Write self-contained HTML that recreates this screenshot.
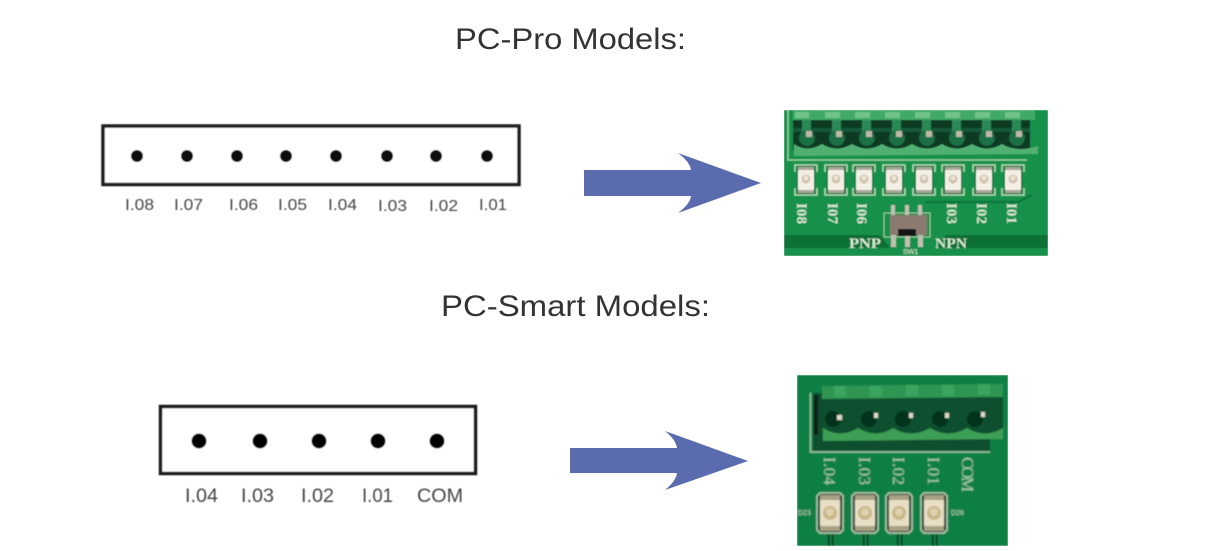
<!DOCTYPE html>
<html><head><meta charset="utf-8"><style>
html,body{margin:0;padding:0;background:#fff}
svg{display:block}
.t{font-family:"Liberation Sans",sans-serif;font-size:30px;fill:#333}
.l{font-family:"Liberation Sans",sans-serif;font-size:16px;fill:#444}
.s{font-family:"Liberation Serif",serif;font-size:15px;font-weight:bold;fill:#d6e8d2}
</style></head><body>
<svg width="1212" height="551" viewBox="0 0 1212 551" xmlns="http://www.w3.org/2000/svg">
<defs>
<filter id="b1" x="-5%" y="-5%" width="110%" height="110%"><feGaussianBlur stdDeviation="0.6"/></filter>
<filter id="b2" x="-5%" y="-5%" width="110%" height="110%"><feGaussianBlur stdDeviation="0.9"/></filter>
<clipPath id="c1"><rect x="784" y="110" width="264" height="146"/></clipPath>
<clipPath id="c2"><rect x="797" y="375" width="211" height="171"/></clipPath>
<g id="led1">
<path d="M-11 -8V-15H11V-8M-11 8V15H11V8" fill="none" stroke="#b8d8b4" stroke-width="1.500"/>
<rect x="-9" y="-14" width="18" height="28" fill="#0f6a38"/>
<rect x="-8" y="-13" width="16" height="4" fill="#a8a898"/>
<rect x="-8" y="9" width="16" height="4" fill="#a8a898"/>
<rect x="-8" y="-10" width="16" height="20" rx="1" fill="#f4efe6"/>
<circle cy="-1" r="4.500" fill="#cfc3ae"/>
<circle cy="-2" r="2.500" fill="#ece3d2"/>
</g>
<g id="led2">
<path d="M-10 -20H10L13 -17V17L10 20H-10L-13 17V-17Z" fill="#123f29" stroke="#bcd3b8" stroke-width="1.500"/>
<rect x="-10" y="-18" width="20" height="6" fill="#a9a184"/>
<rect x="-10" y="12" width="20" height="6" fill="#a9a184"/>
<rect x="-10" y="-13" width="20" height="26" rx="1" fill="#e8dfc6"/>
<circle r="7" fill="#c8b687"/>
<circle cy="-1" r="4" fill="#ddd1b0"/>
</g>
</defs>

<text class="t" x="455" y="49" textLength="231" lengthAdjust="spacingAndGlyphs">PC-Pro Models:</text>
<text class="t" x="441" y="316" textLength="269" lengthAdjust="spacingAndGlyphs">PC-Smart Models:</text>

<!-- top connector -->
<g filter="url(#b1)">
<rect x="103" y="126" width="416" height="58.500" fill="#fff" stroke="#1f1f1f" stroke-width="3.500"/>
<g fill="#0c0c0c">
<circle cx="137" cy="156" r="6"/><circle cx="187" cy="156" r="6"/><circle cx="237" cy="156" r="6"/><circle cx="286" cy="156" r="6"/><circle cx="336" cy="156" r="6"/><circle cx="387" cy="156" r="6"/><circle cx="436" cy="156" r="6"/><circle cx="487" cy="156" r="6"/>
</g>
<text class="l" x="125" y="210" textLength="29" lengthAdjust="spacingAndGlyphs">I.08</text>
<text class="l" x="174" y="210" textLength="29" lengthAdjust="spacingAndGlyphs">I.07</text>
<text class="l" x="229" y="210" textLength="29" lengthAdjust="spacingAndGlyphs">I.06</text>
<text class="l" x="278" y="210" textLength="29" lengthAdjust="spacingAndGlyphs">I.05</text>
<text class="l" x="328" y="210" textLength="29" lengthAdjust="spacingAndGlyphs">I.04</text>
<text class="l" x="378" y="211" textLength="29" lengthAdjust="spacingAndGlyphs">I.03</text>
<text class="l" x="429" y="211" textLength="29" lengthAdjust="spacingAndGlyphs">I.02</text>
<text class="l" x="479" y="210" textLength="28" lengthAdjust="spacingAndGlyphs">I.01</text>
</g>

<!-- bottom connector -->
<g filter="url(#b1)">
<rect x="160.500" y="406.500" width="315" height="67" fill="#fff" stroke="#1f1f1f" stroke-width="3.500"/>
<g fill="#050505">
<circle cx="199" cy="441" r="7.500"/><circle cx="260" cy="441" r="7.500"/><circle cx="319" cy="441" r="7.500"/><circle cx="378" cy="441" r="7.500"/><circle cx="437" cy="441" r="7.500"/>
</g>
<text class="l" style="font-size:19px" x="185" y="502" textLength="33" lengthAdjust="spacingAndGlyphs">I.04</text>
<text class="l" style="font-size:19px" x="241" y="502" textLength="33" lengthAdjust="spacingAndGlyphs">I.03</text>
<text class="l" style="font-size:19px" x="301" y="502" textLength="33" lengthAdjust="spacingAndGlyphs">I.02</text>
<text class="l" style="font-size:19px" x="362" y="502" textLength="31" lengthAdjust="spacingAndGlyphs">I.01</text>
<text class="l" style="font-size:19px" x="417" y="502" textLength="46" lengthAdjust="spacingAndGlyphs">COM</text>
</g>

<!-- arrows -->
<path d="M584 170H691Q690 162 678 153L761 183L678 213Q690 204 691 196H584Z" fill="#5a6cae"/>
<path d="M570 448H677Q676 440 665 431L748 461L665 490Q676 481 677 473H570Z" fill="#5a6cae"/>

<!-- top photo -->
<g clip-path="url(#c1)"><g filter="url(#b1)">
<rect x="784" y="110" width="264" height="146" fill="#15904c"/>
<rect x="784" y="235" width="264" height="13" fill="#0b6f35"/>
<path d="M880 235L892 250H936L946 235Z" fill="#15904c"/>
<path d="M788 110V160H1027" fill="none" stroke="#9ccf9f" stroke-width="1.500"/>
<path d="M925 202H1018L1032 195" fill="none" stroke="#0a6a34" stroke-width="1.500"/>
<rect x="793" y="118" width="237" height="32" fill="#0f3a24"/>
<rect x="793" y="128" width="237" height="4" fill="#17593a"/>
<rect x="793" y="110" width="242" height="10" fill="#3fa868"/>
<g fill="#6fc48a"><rect x="795" y="112" width="14" height="6"/><rect x="825" y="112" width="15" height="6"/><rect x="855" y="112" width="15" height="6"/><rect x="885" y="112" width="15" height="6"/><rect x="915" y="112" width="15" height="6"/><rect x="945" y="112" width="15" height="6"/><rect x="975" y="112" width="15" height="6"/><rect x="1005" y="112" width="15" height="6"/></g>
<g fill="#2c8a57"><rect x="802" y="120" width="9" height="14"/><rect x="832" y="120" width="9" height="14"/><rect x="862" y="120" width="9" height="14"/><rect x="892" y="120" width="9" height="14"/><rect x="922" y="120" width="9" height="14"/><rect x="952" y="120" width="9" height="14"/><rect x="982" y="120" width="9" height="14"/><rect x="1012" y="120" width="9" height="14"/></g>
<g fill="#1b6f45"><circle cx="807" cy="138" r="8"/><circle cx="837" cy="138" r="8"/><circle cx="867" cy="138" r="8"/><circle cx="897" cy="138" r="8"/><circle cx="927" cy="138" r="8"/><circle cx="957" cy="138" r="8"/><circle cx="987" cy="138" r="8"/><circle cx="1017" cy="138" r="8"/></g>
<g fill="#bdb9a6"><rect x="806" y="131" width="6" height="6"/><rect x="836" y="131" width="6" height="6"/><rect x="866" y="131" width="6" height="6"/><rect x="896" y="131" width="6" height="6"/><rect x="926" y="131" width="6" height="6"/><rect x="956" y="131" width="6" height="6"/><rect x="986" y="131" width="6" height="6"/><rect x="1016" y="131" width="6" height="6"/></g>
<path d="M794 144Q807 153 822 144Q837 153 852 144Q867 153 882 144Q897 153 912 144Q927 153 942 144Q957 153 972 144Q987 153 1002 144Q1017 153 1038 146V154L794 156Z" fill="#4fb072"/>
<use href="#led1" x="806" y="180"/><use href="#led1" x="836" y="180"/><use href="#led1" x="864" y="180"/><use href="#led1" x="894" y="180"/><use href="#led1" x="924" y="180"/><use href="#led1" x="953" y="180"/><use href="#led1" x="984" y="180"/><use href="#led1" x="1013" y="180"/>
<text class="s" transform="translate(797,203) rotate(90)" textLength="21">I08</text>
<text class="s" transform="translate(828,203) rotate(90)" textLength="21">I07</text>
<text class="s" transform="translate(857,203) rotate(90)" textLength="21">I06</text>
<text class="s" transform="translate(947,203) rotate(90)" textLength="21">I03</text>
<text class="s" transform="translate(977,203) rotate(90)" textLength="21">I02</text>
<text class="s" transform="translate(1007,203) rotate(90)" textLength="21">I01</text>
<text class="s" x="849" y="248" textLength="32" lengthAdjust="spacingAndGlyphs">PNP</text>
<text class="s" x="935" y="248" textLength="32" lengthAdjust="spacingAndGlyphs">NPN</text>
<rect x="884" y="213" width="46" height="24" fill="none" stroke="#9fcba3" stroke-width="1"/>
<g fill="#c0c0b0"><rect x="891" y="205" width="4" height="10"/><rect x="905" y="205" width="4" height="10"/><rect x="918" y="205" width="4" height="10"/><rect x="891" y="234" width="5" height="13"/><rect x="905" y="234" width="5" height="13"/><rect x="918" y="234" width="5" height="13"/></g>
<rect x="890" y="215" width="37" height="20" fill="#8a7a70"/>
<rect x="898" y="229" width="18" height="7" fill="#161412"/>
<text x="903" y="254" font-family="Liberation Sans, sans-serif" font-size="7" fill="#e2eede">SW1</text>
</g></g>

<!-- bottom photo -->
<g clip-path="url(#c2)"><g filter="url(#b2)">
<rect x="797" y="375" width="211" height="171" fill="#0a7f45"/>
<path d="M990 452H810.500V393" fill="none" stroke="#a5c7a8" stroke-width="1.500"/>
<path d="M813 393H1003V436H990V451H813Z" fill="#0b4f2e"/>
<rect x="814" y="395" width="4" height="40" fill="#0a1f16"/>
<path d="M822 386L1003 384V397L822 399Z" fill="#2f9552"/>
<g fill="#3aa45e"><rect x="834" y="386" width="12" height="11"/><rect x="870" y="386" width="12" height="11"/><rect x="906" y="385" width="12" height="11"/><rect x="942" y="385" width="12" height="11"/><rect x="978" y="384" width="12" height="11"/></g>
<g fill="#06301e"><circle cx="833" cy="419" r="8"/><circle cx="869" cy="419" r="8"/><circle cx="903" cy="419" r="8"/><circle cx="940" cy="419" r="8"/><circle cx="975" cy="419" r="8"/></g>
<g fill="#dcdcc8"><rect x="837" y="415" width="5" height="5"/><rect x="874" y="413" width="4" height="5"/><rect x="909" y="413" width="4" height="5"/><rect x="945" y="413" width="4" height="5"/><rect x="981" y="412" width="4" height="5"/></g>
<path d="M823 428Q840 439 858 428Q876 439 893 428Q911 439 930 428Q948 439 967 428Q985 439 1003 428V439L823 441Z" fill="#3c9f55"/>
<g fill="#a9cdb0" style="font-family:'Liberation Serif',serif;font-size:17px">
<text transform="translate(824,457) rotate(90)" textLength="28">I.04</text>
<text transform="translate(859,457) rotate(90)" textLength="28">I.03</text>
<text transform="translate(893,457) rotate(90)" textLength="28">I.02</text>
<text transform="translate(928,457) rotate(90)" textLength="28">I.01</text>
<text transform="translate(962,457) rotate(90)" textLength="35">COM</text>
</g>
<use href="#led2" x="830" y="513"/><use href="#led2" x="865" y="513"/><use href="#led2" x="899" y="513"/><use href="#led2" x="934" y="513"/>
<g fill="#0a1a12"><rect x="828" y="534" width="1.500" height="12"/><rect x="832" y="534" width="1.500" height="12"/><rect x="863" y="534" width="1.500" height="12"/><rect x="867" y="534" width="1.500" height="12"/><rect x="897" y="534" width="1.500" height="12"/><rect x="901" y="534" width="1.500" height="12"/><rect x="932" y="534" width="1.500" height="12"/><rect x="936" y="534" width="1.500" height="12"/></g>
<text x="798" y="515" font-family="Liberation Sans, sans-serif" font-size="7" fill="#c5dcc5">D23</text>
<text x="951" y="515" font-family="Liberation Sans, sans-serif" font-size="7" fill="#c5dcc5">D26</text>
</g></g>
</svg>
</body></html>
